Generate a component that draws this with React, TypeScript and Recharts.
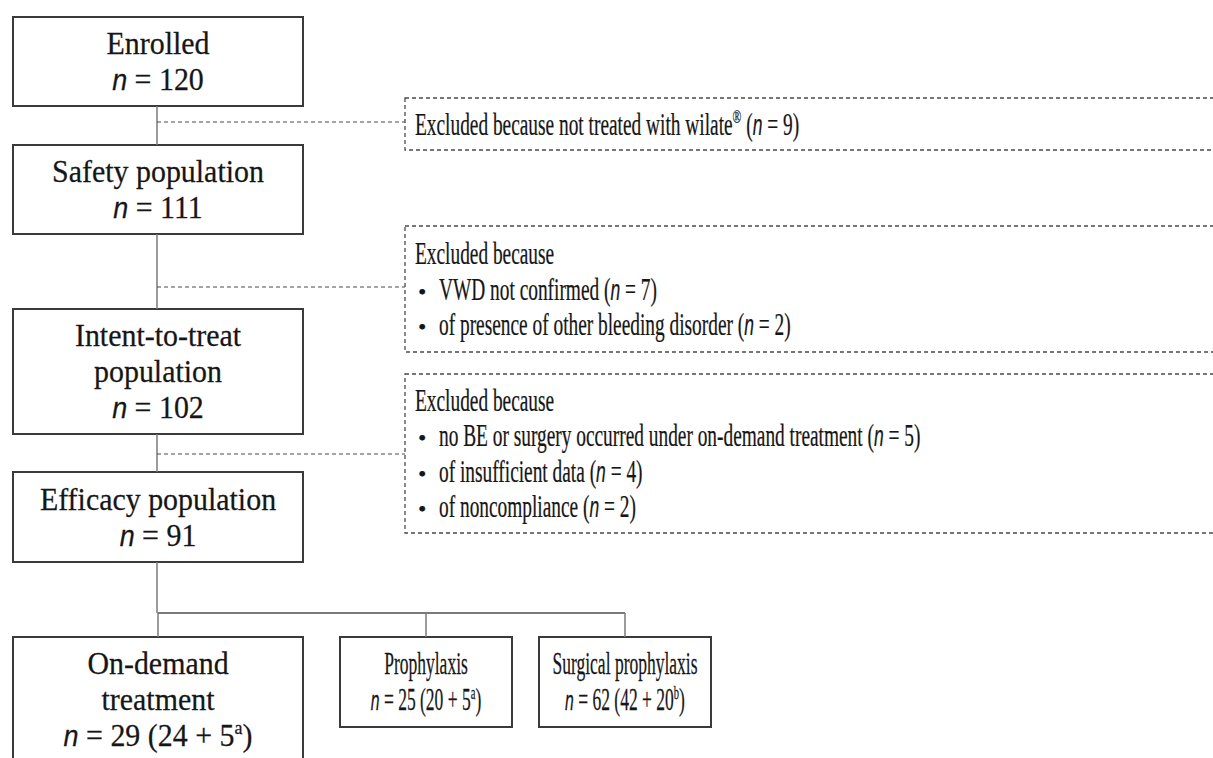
import React from 'react';
import { ComposedChart, XAxis, YAxis, ReferenceArea, ReferenceLine, Scatter } from 'recharts';

// ---------- data ----------
const stageLines: string[][] = [['Enrolled'], ['Safety population'], ['Intent-to-treat', 'population'], ['Efficacy population']];
const stageN = [120, 111, 102, 91];

const exclusionHeaders = ['Excluded because not treated with wilate', 'Excluded because', 'Excluded because'];
const exclusionMarks = ['®', '', ''];
const exclusionReasons: string[][] = [
  [],
  ['VWD not confirmed', 'of presence of other bleeding disorder'],
  ['no BE or surgery occurred under on-demand treatment', 'of insufficient data', 'of noncompliance'],
];
const exclusionCounts: number[][] = [[9], [7, 2], [5, 4, 2]];

const armLines: string[][] = [['On-demand', 'treatment'], ['Prophylaxis'], ['Surgical prophylaxis']];
const armN = [29, 25, 62];
const armBase = [24, 20, 42];
const armExtra = [5, 5, 20];
const armNotes = ['a', 'a', 'b'];

// ---------- layout (chart units) ----------
const W = 1213;
const H = 758;
const stageBoxes = [
  { x1: 13, x2: 303, y1: 17, y2: 106 },
  { x1: 13, x2: 303, y1: 145, y2: 234 },
  { x1: 13, x2: 303, y1: 309, y2: 434 },
  { x1: 13, x2: 303, y1: 472, y2: 562 },
];
const exclBoxes = [
  { x1: 405, x2: 1230, y1: 98, y2: 150 },
  { x1: 405, x2: 1230, y1: 226, y2: 352 },
  { x1: 405, x2: 1230, y1: 374, y2: 533 },
];
const exclLinkY = [122, 287, 454];
const armBoxes = [
  { x1: 13, x2: 303, y1: 637, y2: 761 },
  { x1: 340, x2: 512, y1: 637, y2: 727 },
  { x1: 539, x2: 711, y1: 637, y2: 727 },
];
const trunkX = 157;
const splitY = 613;

// ---------- styles ----------
const SERIF = '"Liberation Serif", "Times New Roman", Times, serif';
const NFONT = '"Liberation Sans", Arial, sans-serif';
const TEXT = '#161616';
const BOX_STROKE = '#3a3a3a';
const DASH_STROKE = '#4a4a4a';
const LINK = '#7a7a7a';
const FS = 32;

type Seg = { t: string; it?: boolean; sup?: boolean };

const nSegs = (n: number): Seg[] => [{ t: 'n', it: true }, { t: ` = ${n}` }];

function renderSegs(segs: Seg[], fs: number) {
  const out: React.ReactNode[] = [];
  let shifted = false;
  segs.forEach((s, i) => {
    let dy: number | undefined;
    if (s.sup && !shifted) {
      dy = -0.36 * fs;
      shifted = true;
    } else if (!s.sup && shifted) {
      dy = 0.36 * fs;
      shifted = false;
    }
    out.push(
      <tspan
        key={i}
        dy={dy}
        fontSize={s.sup ? fs * 0.6 : s.it ? fs * 0.9 : undefined}
        fontStyle={s.it ? 'italic' : undefined}
        fontFamily={s.it ? NFONT : undefined}
      >
        {s.t}
      </tspan>
    );
  });
  return out;
}

function TextLine({ segs, x, y, k, fs, anchor }: { segs: Seg[]; x: number; y: number; k: number; fs: number; anchor: 'start' | 'middle' }) {
  return (
    <text
      transform={`translate(${x} ${y}) scale(${k} 1)`}
      x={0}
      y={0}
      textAnchor={anchor}
      fontFamily={SERIF}
      fontSize={fs}
      fill={TEXT}
      stroke={TEXT}
      strokeWidth={0.25}
      style={{ whiteSpace: 'pre' }}
    >
      {renderSegs(segs, fs)}
    </text>
  );
}

function CenterLabel(props: any) {
  const { viewBox, lines, fs, k, gap } = props;
  if (!viewBox) return null;
  const cx = viewBox.x + viewBox.width / 2;
  const cy = viewBox.y + viewBox.height / 2;
  const n = lines.length;
  return (
    <g>
      {lines.map((segs: Seg[], i: number) => (
        <TextLine key={i} segs={segs} x={cx} y={cy + (i - (n - 1) / 2) * gap + 0.33 * fs} k={k} fs={fs} anchor="middle" />
      ))}
    </g>
  );
}

function ExclLabel(props: any) {
  const { viewBox, header, bullets, fs, k, gap } = props;
  if (!viewBox) return null;
  const cy = viewBox.y + viewBox.height / 2;
  const n = 1 + bullets.length;
  const yAt = (i: number) => cy + (i - (n - 1) / 2) * gap + 0.33 * fs;
  return (
    <g>
      <TextLine segs={header} x={viewBox.x + 10} y={yAt(0)} k={k} fs={fs} anchor="start" />
      {bullets.map((segs: Seg[], i: number) => (
        <g key={i}>
          <TextLine segs={[{ t: '•' }]} x={viewBox.x + 13} y={yAt(i + 1)} k={1} fs={fs * 0.75} anchor="start" />
          <TextLine segs={segs} x={viewBox.x + 34} y={yAt(i + 1)} k={k} fs={fs} anchor="start" />
        </g>
      ))}
    </g>
  );
}

const countSegs = (n: number): Seg[] => [{ t: ' (' }, { t: 'n', it: true }, { t: ` = ${n})` }];

export default function App() {
  const anchors = stageBoxes.map((b, i) => ({ x: (b.x1 + b.x2) / 2, y: (b.y1 + b.y2) / 2, n: stageN[i] }));

  const stageLabelLines = stageLines.map((ls, i) => [...ls.map((t) => [{ t }] as Seg[]), nSegs(stageN[i])]);
  const armLabelLines = armLines.map((ls, i) => [
    ...ls.map((t) => [{ t }] as Seg[]),
    [
      { t: 'n', it: true },
      { t: ` = ${armN[i]} (${armBase[i]} + ${armExtra[i]}` },
      { t: armNotes[i], sup: true },
      { t: ')' },
    ] as Seg[],
  ]);

  const exclHeaderSegs = exclusionHeaders.map((h, i) => {
    const segs: Seg[] = [{ t: h }];
    if (exclusionMarks[i]) segs.push({ t: exclusionMarks[i], sup: true });
    if (exclusionReasons[i].length === 0) segs.push(...countSegs(exclusionCounts[i][0]));
    return segs;
  });
  const exclBulletSegs = exclusionReasons.map((rs, i) =>
    rs.map((r, j) => [{ t: r }, ...countSegs(exclusionCounts[i][j])] as Seg[])
  );

  const armCenters = armBoxes.map((b) => (b.x1 + b.x2) / 2);

  const trunkSegs: { y1: number; y2: number }[] = [];
  for (let i = 0; i < stageBoxes.length - 1; i++) trunkSegs.push({ y1: stageBoxes[i].y2, y2: stageBoxes[i + 1].y1 });
  trunkSegs.push({ y1: stageBoxes[stageBoxes.length - 1].y2, y2: splitY });

  return (
    <div style={{ position: 'absolute', left: 0, top: 0, width: W, height: H, background: '#fff' }}>
      <ComposedChart width={W} height={H} margin={{ top: 0, right: 0, bottom: 0, left: 0 }} data={anchors}>
        <XAxis type="number" dataKey="x" domain={[0, W]} allowDataOverflow hide />
        <YAxis type="number" dataKey="y" domain={[0, H]} allowDataOverflow reversed hide />

        {trunkSegs.map((s, i) => (
          <ReferenceLine
            key={`t${i}`}
            segment={[{ x: trunkX, y: s.y1 }, { x: trunkX, y: s.y2 }]}
            stroke={LINK}
            strokeWidth={1.5}
            ifOverflow="visible"
          />
        ))}
        <ReferenceLine
          segment={[{ x: armCenters[0], y: splitY }, { x: armCenters[armCenters.length - 1], y: splitY }]}
          stroke={LINK}
          strokeWidth={2}
          ifOverflow="visible"
        />
        {armBoxes.map((b, i) => (
          <ReferenceLine
            key={`a${i}`}
            segment={[{ x: armCenters[i], y: splitY }, { x: armCenters[i], y: b.y1 }]}
            stroke={LINK}
            strokeWidth={1.5}
            ifOverflow="visible"
          />
        ))}
        {exclLinkY.map((y, i) => (
          <ReferenceLine
            key={`e${i}`}
            segment={[{ x: trunkX, y }, { x: exclBoxes[i].x1, y }]}
            stroke={DASH_STROKE}
            strokeWidth={1.2}
            strokeDasharray="4 3"
            ifOverflow="visible"
          />
        ))}

        {stageBoxes.map((b, i) => (
          <ReferenceArea
            key={`s${i}`}
            x1={b.x1}
            x2={b.x2}
            y1={b.y1}
            y2={b.y2}
            fill="#fff"
            fillOpacity={1}
            stroke={BOX_STROKE}
            strokeWidth={2}
            ifOverflow="visible"
            label={<CenterLabel lines={stageLabelLines[i]} fs={FS} k={0.935} gap={36} />}
          />
        ))}
        {exclBoxes.map((b, i) => (
          <ReferenceArea
            key={`x${i}`}
            x1={b.x1}
            x2={b.x2}
            y1={b.y1}
            y2={b.y2}
            fill="#fff"
            fillOpacity={1}
            stroke={DASH_STROKE}
            strokeWidth={1.3}
            strokeDasharray="4 3"
            ifOverflow="visible"
            label={<ExclLabel header={exclHeaderSegs[i]} bullets={exclBulletSegs[i]} fs={FS} k={0.605} gap={35.5} />}
          />
        ))}
        {armBoxes.map((b, i) => (
          <ReferenceArea
            key={`r${i}`}
            x1={b.x1}
            x2={b.x2}
            y1={b.y1}
            y2={b.y2}
            fill="#fff"
            fillOpacity={1}
            stroke={BOX_STROKE}
            strokeWidth={2}
            ifOverflow="visible"
            label={<CenterLabel lines={armLabelLines[i]} fs={i === 0 ? FS : 31} k={i === 0 ? 0.935 : 0.565} gap={36} />}
          />
        ))}

        <Scatter data={anchors} dataKey="y" isAnimationActive={false} shape={() => <g />} />
      </ComposedChart>
    </div>
  );
}
